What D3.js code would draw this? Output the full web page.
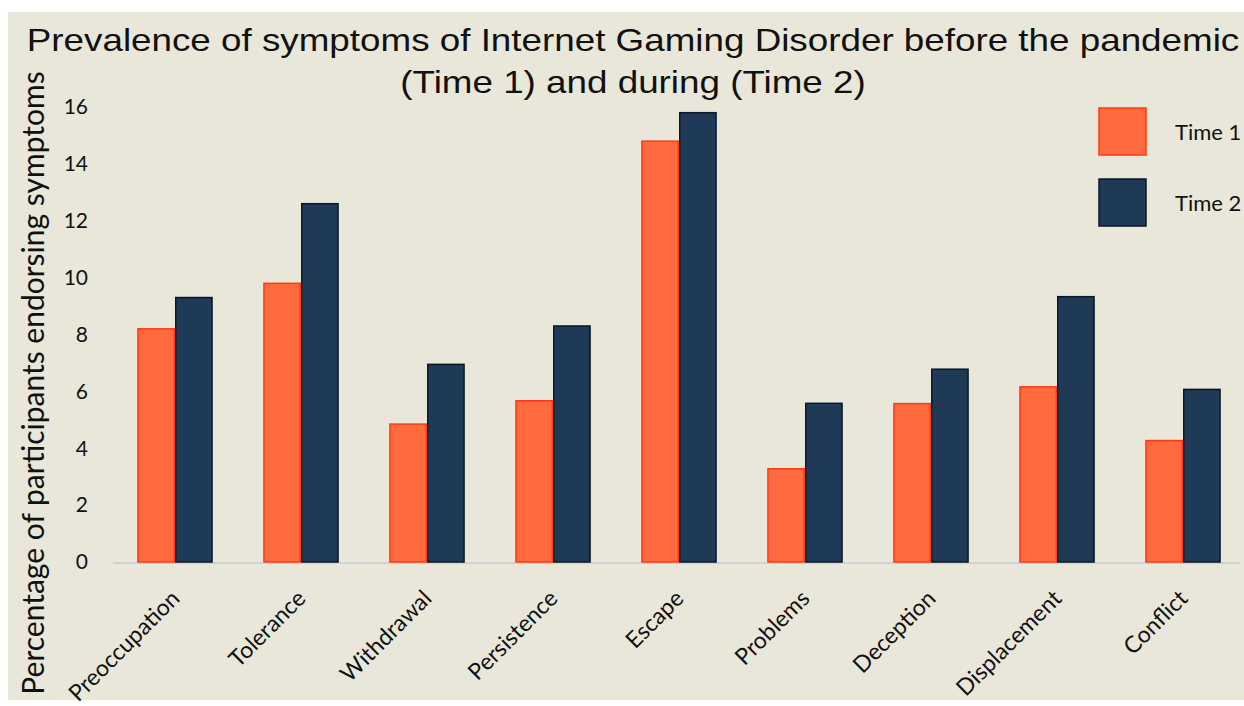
<!DOCTYPE html>
<html>
<head>
<meta charset="utf-8">
<script src="https://cdn.jsdelivr.net/npm/d3@7"></script>
<style>
  body { margin: 0; background: #ffffff; }
  svg { display: block; }
</style>
</head>
<body>
<svg id="chart"></svg>
<script>
// data
var symptoms = ["Preoccupation", "Tolerance", "Withdrawal", "Persistence", "Escape",
                "Problems", "Deception", "Displacement", "Conflict"];
var time1 = [8.2, 9.8, 4.85, 5.67, 14.8, 3.28, 5.57, 6.16, 4.27];
var time2 = [9.3, 12.6, 6.95, 8.3, 15.8, 5.58, 6.78, 9.33, 6.07];
var seriesNames = ["Time 1", "Time 2"];
var yTicks = [0, 2, 4, 6, 8, 10, 12, 14, 16];

var W = 1244, H = 706;
var fill = ["#ff6b3e", "#1f3a56"];
var edge = ["#ff3a12", "#0b1729"];

var svg = d3.select("#chart").attr("width", W).attr("height", H);

svg.append("rect")
  .attr("x", 8).attr("y", 12)
  .attr("width", W - 8).attr("height", 688)
  .attr("fill", "#e9e7da");

var x = d3.scaleBand().domain(symptoms).range([112, 1246]).paddingInner(0.4).paddingOuter(0.2);
var xs = d3.scaleBand().domain(seriesNames).range([0, x.bandwidth()]);
var y = d3.scaleLinear().domain([0, 16]).range([562, 107]);

// baseline
svg.append("line")
  .attr("x1", 113).attr("x2", 1240)
  .attr("y1", y(0) + 1).attr("y2", y(0) + 1)
  .attr("stroke", "#c9c9d2").attr("stroke-width", 1.5);

// y tick labels
svg.selectAll(".ytick").data(yTicks).enter().append("text")
  .attr("class", "ytick")
  .attr("x", 88).attr("y", function(d){ return y(d); })
  .attr("dy", "0.35em")
  .attr("text-anchor", "end")
  .style("font-family", "Lato, 'Open Sans', sans-serif")
  .style("font-size", "21px")
  .attr("fill", "#111")
  .text(function(d){ return d; });

// bars
var groups = svg.selectAll(".grp").data(symptoms).enter().append("g")
  .attr("class", "grp")
  .attr("transform", function(d){ return "translate(" + x(d) + ",0)"; });

groups.selectAll("rect")
  .data(function(d, i){ return [{s: 0, v: time1[i]}, {s: 1, v: time2[i]}]; })
  .enter().append("rect")
  .attr("x", function(d){ return xs(seriesNames[d.s]) + 0.75; })
  .attr("y", function(d){ return y(d.v); })
  .attr("width", xs.bandwidth() - 1.5)
  .attr("height", function(d){ return y(0) - y(d.v); })
  .attr("fill", function(d){ return fill[d.s]; })
  .attr("stroke", function(d){ return edge[d.s]; })
  .attr("stroke-width", 1.5);

// x labels, rotated
svg.selectAll(".xlab").data(symptoms).enter().append("text")
  .attr("class", "xlab")
  .attr("transform", function(d){
    return "translate(" + (x(d) + x.bandwidth() / 2 + 6) + "," + (y(0) + 38) + ") rotate(-45)";
  })
  .attr("text-anchor", "end")
  .style("font-family", "Lato, 'Open Sans', sans-serif")
  .style("font-size", "23px")
  .attr("fill", "#111")
  .text(function(d){ return d; });

// y axis title
svg.append("text")
  .attr("transform", "translate(44,383) rotate(-90)")
  .attr("text-anchor", "middle")
  .style("font-family", "Lato, 'Open Sans', sans-serif")
  .style("font-size", "30px")
  .attr("fill", "#111")
  .text("Percentage of participants endorsing symptoms");

// title (source picture is slightly stretched sideways)
var title = svg.append("g")
  .attr("transform", "translate(633,0) scale(1.15,1)")
  .append("text")
  .attr("text-anchor", "middle")
  .style("font-family", "'Liberation Sans', Arial, sans-serif")
  .style("font-size", "32px")
  .attr("fill", "#111");
title.append("tspan").attr("x", 0).attr("y", 51)
  .text("Prevalence of symptoms of Internet Gaming Disorder before the pandemic");
title.append("tspan").attr("x", 0).attr("y", 93)
  .text("(Time 1) and during (Time 2)");

// legend
var leg = svg.selectAll(".leg").data(seriesNames).enter().append("g")
  .attr("class", "leg")
  .attr("transform", function(d, i){ return "translate(1099," + (108 + i * 71) + ")"; });
leg.append("rect")
  .attr("width", 47).attr("height", 47)
  .attr("fill", function(d, i){ return fill[i]; })
  .attr("stroke", function(d, i){ return edge[i]; })
  .attr("stroke-width", 1.5);
leg.append("text")
  .attr("x", 76).attr("y", 24).attr("dy", "0.35em")
  .style("font-family", "Lato, 'Open Sans', sans-serif")
  .style("font-size", "22px")
  .attr("fill", "#111")
  .text(function(d){ return d; });
</script>
</body>
</html>
